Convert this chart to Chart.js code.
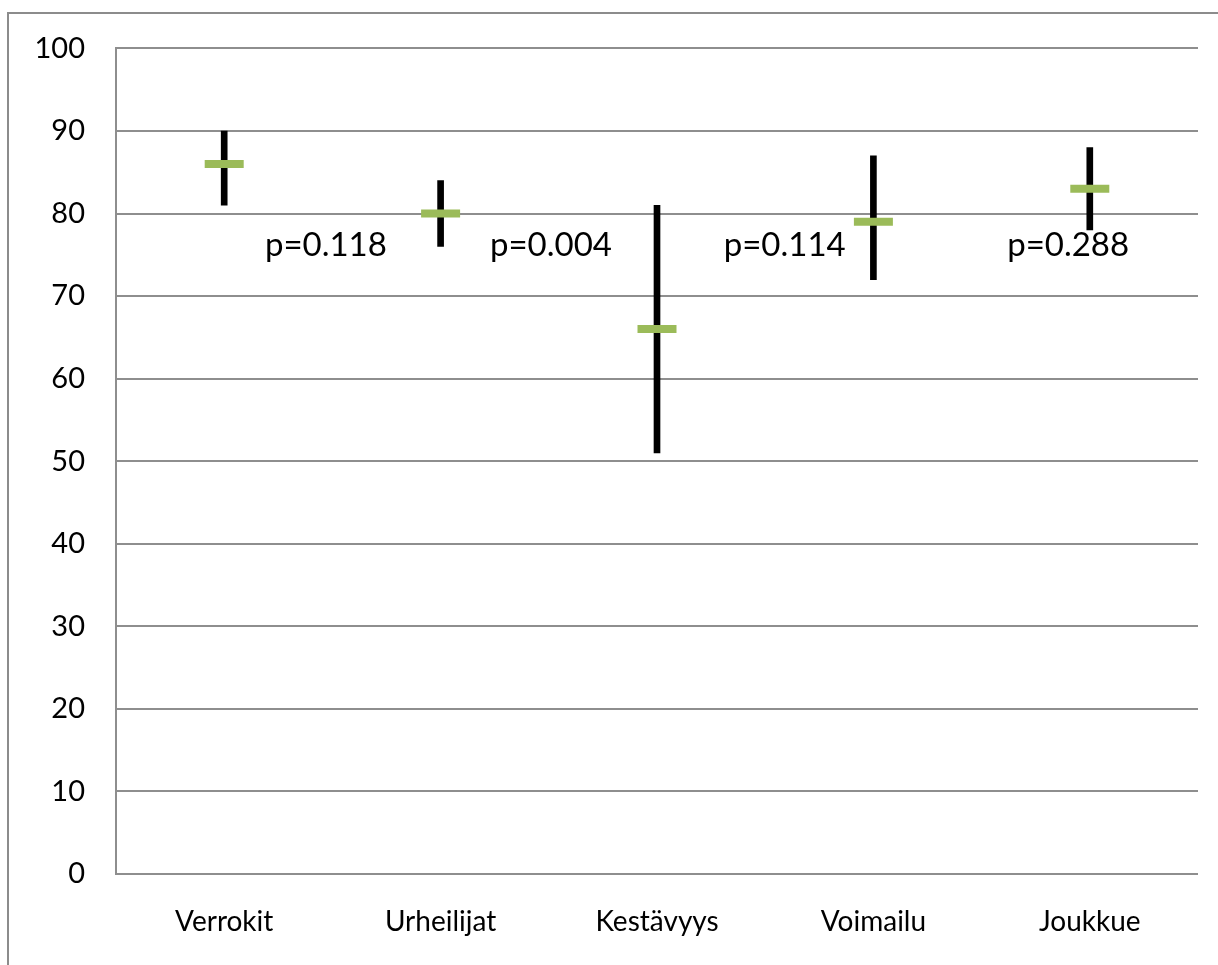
<!DOCTYPE html>
<html>
<head>
<meta charset="utf-8">
<script src="https://cdn.jsdelivr.net/npm/chart.js@4.4.1/dist/chart.umd.min.js"></script>
<style>
  html, body { margin: 0; padding: 0; background: #fff; overflow: hidden; }
  #wrap { position: absolute; left: 0; top: 0; width: 1218px; height: 965px; }
</style>
</head>
<body>
<div id="wrap"><canvas id="grafico"></canvas></div>
<script>
const categorias = ['Verrokit', 'Urheilijat', 'Kestävyys', 'Voimailu', 'Joukkue'];
const minimos = [81, 76, 51, 72, 78];
const maximos = [90, 84, 81, 87, 88];
const medias = [86, 80, 66, 79, 83];

// p-arvot ja niiden paikat (x kategoriaindeksinä, y arvona)
const pTextos = ['p=0.118', 'p=0.004', 'p=0.114', 'p=0.288'];
const pPosX = [0.47, 1.51, 2.59, 3.90];
const pPosY = [76.2, 76.2, 76.2, 76.2];

const yTicks = [0, 10, 20, 30, 40, 50, 60, 70, 80, 90, 100];

const fuente = 'Lato, "Open Sans", sans-serif';

let rangos = [];
minimos.forEach((m, i) => {
    rangos.push([m, maximos[i]]);
});

// kehys koko kuvan ympärillä (vain vasen ja ylä reuna näkyvät)
const kehys = {
    id: 'kehys',
    beforeDraw(chart) {
        const ctx = chart.ctx;
        ctx.save();
        ctx.strokeStyle = '#8c8c8c';
        ctx.lineWidth = 2;
        ctx.beginPath();
        ctx.moveTo(8, chart.height);
        ctx.lineTo(8, 13);
        ctx.lineTo(chart.width, 13);
        ctx.stroke();
        ctx.restore();
    }
};

const pValores = {
    id: 'pValores',
    afterDatasetsDraw(chart) {
        const ctx = chart.ctx;
        const x = chart.scales.x;
        const y = chart.scales.y;
        ctx.save();
        ctx.font = '33px ' + fuente;
        ctx.fillStyle = '#000';
        ctx.textAlign = 'center';
        ctx.textBaseline = 'middle';
        pTextos.forEach((t, i) => {
            const i0 = Math.floor(pPosX[i]);
            const f = pPosX[i] - i0;
            const px = x.getPixelForValue(i0) + f * (x.getPixelForValue(i0 + 1) - x.getPixelForValue(i0));
            ctx.fillText(t, px, y.getPixelForValue(pPosY[i]));
        });
        ctx.restore();
    }
};

const ctx = document.getElementById('grafico');

new Chart(ctx, {
    type: 'bar',
    data: {
        labels: categorias,
        datasets: [
            {
                type: 'line',
                label: 'Keskiarvo',
                data: medias,
                showLine: false,
                clip: false,
                pointStyle: 'line',
                pointRadius: 19.5,
                pointHoverRadius: 19.5,
                pointBorderWidth: 8,
                pointHoverBorderWidth: 8,
                borderColor: '#9bbb59',
                backgroundColor: '#9bbb59',
                order: 0
            },
            {
                label: 'Vaihteluväli',
                data: rangos,
                backgroundColor: '#000',
                barThickness: 6,
                order: 1
            }
        ]
    },
    options: {
        responsive: true,
        maintainAspectRatio: false,
        animation: false,
        layout: { autoPadding: false, padding: { left: 0, top: 44, right: 20, bottom: 0 } },
        plugins: {
            legend: { display: false },
            tooltip: { enabled: false }
        },
        scales: {
            x: {
                grid: { display: false, drawTicks: false },
                border: { display: false },
                ticks: { color: '#000', font: { family: fuente, size: 28 }, padding: 31 },
                afterFit: (s) => { s.height = 91; }
            },
            y: {
                min: 0,
                max: 100,
                afterBuildTicks: (s) => { s.ticks = yTicks.map(v => ({ value: v })); },
                grid: { color: '#8e8e8e', lineWidth: 2, drawTicks: false },
                border: { display: true, color: '#8e8e8e', width: 2 },
                ticks: { color: '#000', font: { family: fuente, size: 29 }, padding: 31 },
                afterFit: (s) => { s.width = 116; }
            }
        }
    },
    plugins: [kehys, pValores]
});
</script>
</body>
</html>
